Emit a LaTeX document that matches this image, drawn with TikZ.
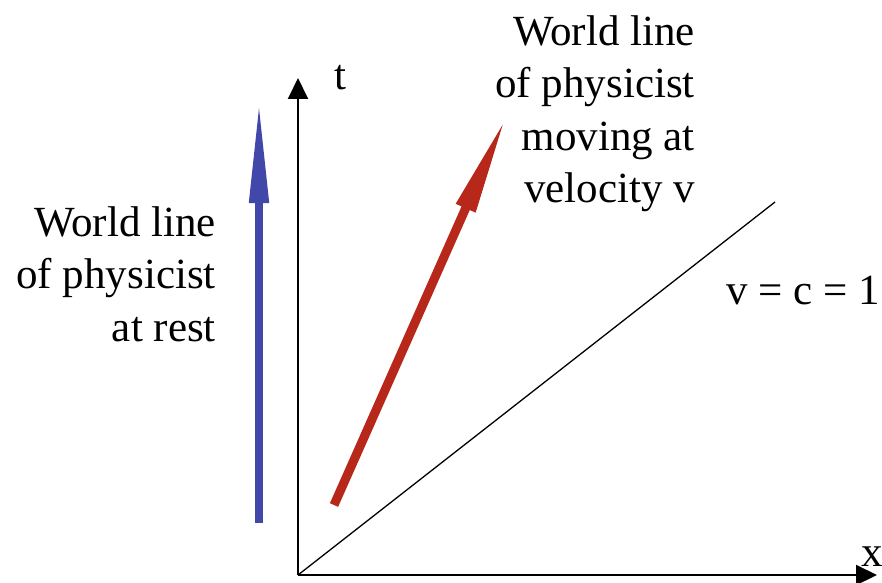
\documentclass[tikz,border=0pt]{standalone}
\usepackage{fontspec}
\setmainfont{Liberation Serif}
\usetikzlibrary{arrows.meta}
\definecolor{restblue}{RGB}{66,72,170}
\definecolor{movered}{RGB}{184,40,26}
\tikzset{
  axisline/.style={line width=2pt,-{Triangle[length=21pt,width=20pt]}},
  lbl/.style={inner sep=0pt,font=\fontsize{43}{52.5}\selectfont,align=right},
}
\begin{document}
\begin{tikzpicture}[x=1pt,y=1pt]
\useasboundingbox (0,0) rectangle (882,582);
% coordinates (y flipped from image)
\coordinate (O) at (298,7);
\coordinate (Tend) at (298,504);
\coordinate (Xend) at (877,7);
\coordinate (Lend) at (775,380);
\coordinate (Bs) at (259,59);
\coordinate (Be) at (259,483);
\coordinate (Rs) at (334,77);
\coordinate (Re) at (507,467);
% axes
\draw[axisline] (O) -- (Tend);
\draw[axisline] (O) -- (Xend);
% light line
\draw[line width=1.3pt] (O) -- (Lend);
% world lines
\draw[restblue,line width=8pt,-{Triangle[length=104pt,width=18pt]}] (Bs) -- (Be);
\draw[movered,line width=9pt,-{Triangle[length=102pt,width=19pt]}] (Rs) -- (Re);
% labels
\node[lbl,anchor=base] (tl) at (340,492) {t};
\node[lbl,anchor=base] (xl) at (872,16) {x};
\node[lbl,anchor=base east] (cl) at (880,278) {v = c = 1};
\node[lbl,anchor=north east] (rest) at (216,376) {World line\\of physicist\\at rest};
\node[lbl,anchor=north east] (mov) at (695,567) {World line\\of physicist\\moving at\\velocity v};
\end{tikzpicture}
\end{document}
